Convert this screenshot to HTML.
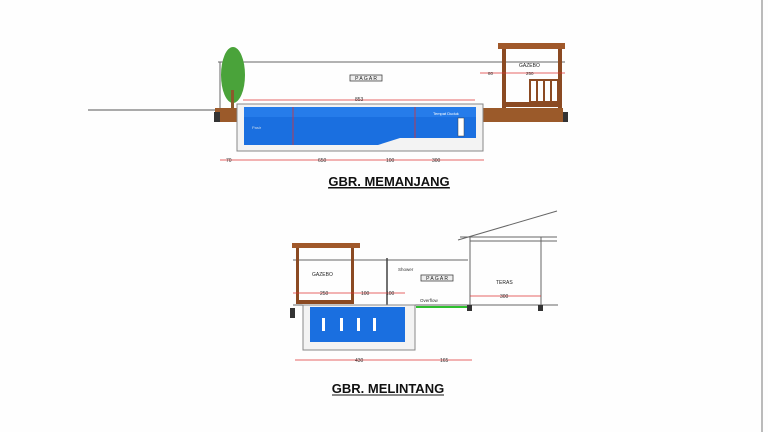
<!DOCTYPE html>
<html><head><meta charset="utf-8"><style>
html,body{margin:0;padding:0;background:#fff;width:768px;height:432px;overflow:hidden}
svg{display:block}
text{font-family:"Liberation Sans",sans-serif}
</style></head><body>
<svg width="768" height="432" viewBox="0 0 768 432" xmlns="http://www.w3.org/2000/svg">
<rect width="768" height="432" fill="#fefefe"/>
<line x1="762" y1="0" x2="762" y2="432" stroke="#bbb" stroke-width="2"/>

<!-- MEMANJANG -->
<line x1="88" y1="110" x2="218" y2="110" stroke="#555" stroke-width="1"/>
<line x1="218" y1="62" x2="565" y2="62" stroke="#666" stroke-width="1"/>
<line x1="220" y1="62" x2="220" y2="108" stroke="#666"/>
<ellipse cx="233" cy="75" rx="12" ry="28" fill="#4aa33a"/>
<rect x="231" y="90" width="3" height="18" fill="#8b5a2b"/>
<rect x="215" y="108" width="23" height="14" fill="#9b5a2a"/>
<rect x="482" y="108" width="81" height="14" fill="#9b5a2a"/>
<rect x="214" y="112" width="6" height="10" fill="#333"/>
<rect x="563" y="112" width="5" height="10" fill="#333"/>
<rect x="237" y="104" width="246" height="47" fill="#f3f3f3" stroke="#888"/>
<polygon points="244,107 476,107 476,138 400,138 378,145 244,145" fill="#1a6fe0"/>
<rect x="244" y="107" width="232" height="10" fill="#2f86f0" opacity=".6"/>
<rect x="458" y="118" width="6" height="18" fill="#fff" stroke="#444" stroke-width=".5"/>
<line x1="243" y1="100" x2="475" y2="100" stroke="#d33" stroke-width=".8"/>
<text x="355" y="101" font-size="5" fill="#333">853</text>
<line x1="293" y1="107" x2="293" y2="145" stroke="#d33" stroke-width=".8"/>
<line x1="415" y1="107" x2="415" y2="138" stroke="#d33" stroke-width=".8"/>
<text x="252" y="129" font-size="4" fill="#cde">Pasir</text>
<text x="433" y="115" font-size="4" fill="#fff">Tempat Duduk</text>
<rect x="350" y="75" width="32" height="6" fill="#eee" stroke="#444" stroke-width=".8"/>
<text x="366" y="80" font-size="5" text-anchor="middle" fill="#222">P A G A R</text>
<rect x="498" y="43" width="67" height="6" fill="#a0582a"/>
<rect x="502" y="49" width="4" height="59" fill="#8b4a22"/>
<rect x="558" y="49" width="4" height="59" fill="#8b4a22"/>
<rect x="502" y="102" width="60" height="5" fill="#8b4a22"/>
<rect x="530" y="80" width="28" height="22" fill="none" stroke="#8b4a22" stroke-width="2"/>
<line x1="537" y1="80" x2="537" y2="102" stroke="#8b4a22" stroke-width="2"/>
<line x1="544" y1="80" x2="544" y2="102" stroke="#8b4a22" stroke-width="2"/>
<line x1="551" y1="80" x2="551" y2="102" stroke="#8b4a22" stroke-width="2"/>
<text x="519" y="67" font-size="5" fill="#222">GAZEBO</text>
<line x1="480" y1="73" x2="565" y2="73" stroke="#d33" stroke-width=".8"/>
<text x="488" y="75" font-size="4.5" fill="#333">80</text>
<text x="526" y="75" font-size="4.5" fill="#333">250</text>
<line x1="220" y1="160" x2="484" y2="160" stroke="#d33" stroke-width=".8"/>
<text x="226" y="162" font-size="5" fill="#333">70</text>
<text x="318" y="162" font-size="5" fill="#333">650</text>
<text x="386" y="162" font-size="5" fill="#333">100</text>
<text x="432" y="162" font-size="5" fill="#333">300</text>
<text x="389" y="186" font-size="13" font-weight="bold" text-anchor="middle" fill="#111" text-decoration="underline">GBR. MEMANJANG</text>
<line x1="328" y1="188" x2="450" y2="188" stroke="#111" stroke-width="1"/>

<!-- MELINTANG -->
<line x1="293" y1="260" x2="468" y2="260" stroke="#666"/>
<line x1="293" y1="305" x2="558" y2="305" stroke="#666"/>
<line x1="387" y1="258" x2="387" y2="305" stroke="#444" stroke-width="1.5"/>
<rect x="292" y="243" width="68" height="5" fill="#a0582a"/>
<rect x="296" y="248" width="3" height="56" fill="#8b4a22"/>
<rect x="351" y="248" width="3" height="56" fill="#8b4a22"/>
<rect x="296" y="300" width="58" height="4" fill="#8b4a22"/>
<text x="312" y="276" font-size="5" fill="#222">GAZEBO</text>
<line x1="293" y1="293" x2="405" y2="293" stroke="#d33" stroke-width=".8"/>
<text x="320" y="295" font-size="5" fill="#333">250</text>
<text x="361" y="295" font-size="5" fill="#333">100</text>
<text x="386" y="295" font-size="5" fill="#333">100</text>
<rect x="290" y="308" width="5" height="10" fill="#333"/>
<rect x="303" y="305" width="112" height="45" fill="#f3f3f3" stroke="#888"/>
<rect x="310" y="307" width="95" height="35" fill="#1a6fe0"/>
<rect x="322" y="318" width="3" height="13" fill="#fff"/>
<rect x="340" y="318" width="3" height="13" fill="#fff"/>
<rect x="357" y="318" width="3" height="13" fill="#fff"/>
<rect x="373" y="318" width="3" height="13" fill="#fff"/>
<line x1="416" y1="307" x2="467" y2="307" stroke="#2ec02e" stroke-width="2"/>
<text x="420" y="302" font-size="4.5" fill="#333">Overflow</text>
<text x="398" y="271" font-size="4.5" fill="#333">Shower</text>
<rect x="421" y="275" width="32" height="6" fill="#eee" stroke="#444" stroke-width=".8"/>
<text x="437" y="280" font-size="5" text-anchor="middle" fill="#222">P A G A R</text>
<line x1="458" y1="240" x2="557" y2="211" stroke="#666"/>
<line x1="460" y1="237" x2="557" y2="237" stroke="#666"/>
<line x1="470" y1="241" x2="557" y2="241" stroke="#666"/>
<line x1="470" y1="237" x2="470" y2="305" stroke="#666"/>
<line x1="541" y1="237" x2="541" y2="305" stroke="#666"/>
<rect x="467" y="305" width="5" height="6" fill="#333"/>
<rect x="538" y="305" width="5" height="6" fill="#333"/>
<text x="496" y="284" font-size="5" fill="#222">TERAS</text>
<line x1="470" y1="296" x2="541" y2="296" stroke="#d33" stroke-width=".8"/>
<text x="500" y="298" font-size="5" fill="#333">300</text>
<line x1="295" y1="360" x2="472" y2="360" stroke="#d33" stroke-width=".8"/>
<text x="355" y="362" font-size="5" fill="#333">430</text>
<text x="440" y="362" font-size="5" fill="#333">165</text>
<text x="388" y="393" font-size="13" font-weight="bold" text-anchor="middle" fill="#111">GBR. MELINTANG</text>
<line x1="332" y1="395" x2="444" y2="395" stroke="#111" stroke-width="1"/>
</svg>
</body></html>
